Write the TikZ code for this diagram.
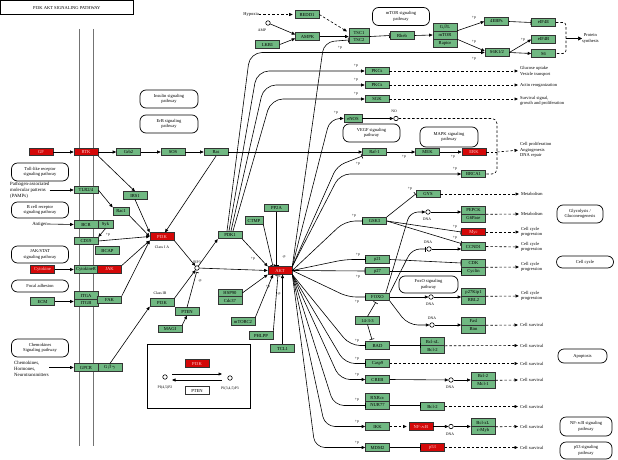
\documentclass[tikz,border=0pt]{standalone}
\usepackage{fontspec}
\setmainfont{Liberation Serif}
\usetikzlibrary{arrows.meta}

\definecolor{kgreen}{RGB}{112,184,130}
\definecolor{kred}{RGB}{212,8,8}
\definecolor{kpink}{RGB}{255,205,205}
\newcommand{\gfont}{\fontsize{4.6}{5}\selectfont}
\newcommand{\tfont}{\fontsize{4.5}{5.6}\selectfont}

\tikzset{
  gene/.style={draw=black!80, fill=kgreen, line width=0.6pt, minimum width=24pt, minimum height=7.5pt, inner sep=0pt, font=\gfont},
  redgene/.style={gene, fill=kred, text=kpink},
  pathbox/.style={draw, line width=0.7pt, rounded corners=6pt, align=center, font=\tfont, minimum width=57pt, minimum height=18pt, inner sep=1pt},
  txt/.style={font=\tfont, align=left, inner sep=0pt},
  plab/.style={font=\fontsize{3.8}{4}\selectfont, inner sep=0pt},
  dna/.style={circle, draw, line width=0.6pt, inner sep=0pt, minimum size=4.5pt, fill=white},
  act/.style={-{Triangle[length=3.5pt,width=3pt]}, line width=0.6pt},
  inh/.style={-{Bar[width=5pt]}, line width=0.6pt},
  dact/.style={act, dash pattern=on 2.5pt off 2pt, shorten >=2pt},
  dln/.style={line width=0.6pt, dash pattern=on 2.5pt off 2pt},
  memb/.style={draw=black!55, line width=0.6pt}
}

\begin{document}
\begin{tikzpicture}[x=1pt,y=-1pt]
\useasboundingbox (0,0) rectangle (618,460);

% title
\node[draw, line width=0.6pt, minimum width=132pt, minimum height=13.5pt, inner sep=0pt, anchor=north west, font=\tfont] (title) at (0.5,0.5) {PI3K AKT SIGNALING PATHWAY};

% cell membrane
\draw[memb] (79,29) -- (79,446);
\draw[memb] (93,29) -- (93,446);

% pathway maps
\node[pathbox] (mtorpath) at (401,16.5) {mTOR signaling\\pathway};
\node[pathbox, minimum width=58pt] (inspath) at (169,99) {Insulin signaling\\pathway};
\node[pathbox, minimum width=58pt] (erbpath) at (169,124) {ErB signaling\\pathway};
\node[pathbox] (vegfpath) at (371.5,133) {VEGF signaling\\pathway};
\node[pathbox, minimum width=58pt, minimum height=20pt] (mapkpath) at (449,137) {MAPK signaling\\pathway};
\node[pathbox] (tlrpath) at (40,172) {Toll-like receptor\\signaling pathway};
\node[pathbox, minimum height=16pt] (bcrpath) at (40,210) {B cell receptor\\signaling pathway};
\node[pathbox, minimum height=17pt] (jakpath) at (40,254.5) {JAK/STAT\\signaling pathway};
\node[pathbox, minimum height=12pt] (focalpath) at (40,286) {Focal adhesion};
\node[pathbox] (chemopath) at (40,348) {Chemokines\\Signaling pathway};
\node[pathbox, minimum width=59pt, minimum height=17pt] (foxopath) at (428.5,284.5) {FoxO signaling\\pathway};
\node[pathbox, minimum width=46pt] (glycopath) at (580,214) {Glycolysis /\\Gluconeogenesis};
\node[pathbox, minimum height=12pt] (ccpath) at (585,262) {Cell cycle};
\node[pathbox, minimum width=49pt, minimum height=14pt] (apoppath) at (582.5,356) {Apoptosis};
\node[pathbox, minimum width=52pt, minimum height=19pt] (nfkbpath) at (586,426.5) {NF-$\kappa$B signaling\\pathway};
\node[pathbox, minimum width=52pt, minimum height=17pt] (p53path) at (586,450.5) {p53 signaling\\pathway};

% receptor level
\node[redgene] (gf) at (41,152) {GF};
\node[redgene] (rtk) at (86,152) {RTK};
\node[gene] (grb2) at (128.5,152) {Grb2};
\node[gene] (sos) at (173,152) {SOS};
\node[gene] (ras) at (216,152) {Ras};
\node[gene] (tlr24) at (86,190) {TLR2/4};
\node[gene] (irs1) at (135,195.5) {IRS1};
\node[gene, minimum width=16pt] (rac1) at (121,211.5) {Rac1};
\node[gene] (bcr) at (86,224.5) {BCR};
\node[gene, minimum width=15pt] (syk) at (105.5,224.5) {Syk};
\node[gene] (cd19) at (86,241) {CD19};
\node[gene] (bcap) at (107.5,250.5) {BCAP};
\node[redgene] (cytokine) at (42.5,269.5) {Cytokine};
\node[gene] (cytor) at (86,269.5) {CytokineR};
\node[redgene] (jak) at (109.5,269.5) {JAK};
\node[gene] (ecm) at (42.5,301.5) {ECM};
\node[gene] (itga) at (86,295.5) {ITGA};
\node[gene] (itgb) at (86,303) {ITGB};
\node[gene] (fak) at (109.5,300) {FAK};
\node[gene] (gpcr) at (86,367.5) {GPCR};
\node[gene] (gbg) at (110,367.5) {G$\beta\gamma$};

% PI3K / AKT core
\node[redgene] (pi3k) at (162,236.5) {PI3K};
\node[gene] (pi3kb) at (162,302.5) {PI3K};
\node[gene] (pten) at (187,311.5) {PTEN};
\node[gene] (magi) at (170,329) {MAGI};
\node[dna] (pip3) at (197,268) {};
\node[gene] (pdk1) at (230,235) {PDK1};
\node[gene, minimum width=18pt] (ctmp) at (254,220.5) {CTMP};
\node[gene] (pp2a) at (276.5,208) {PP2A};
\node[redgene] (akt) at (280,270.5) {AKT};
\node[gene] (hsp90) at (230,293) {HSP90};
\node[gene] (cdc37) at (230,300.5) {Cdc37};
\node[gene] (mtorc2) at (243,321.5) {mTORC2};
\node[gene] (phlpp) at (261,335.5) {PHLPP};
\node[gene] (tcl1) at (282.5,348.5) {TCL1};

% mTOR branch
\node[gene] (redd1) at (307,14.5) {REDD1};
\node[gene] (ampk) at (307.5,36.5) {AMPK};
\node[gene] (lkb1) at (267.5,44.5) {LKB1};
\node[dna] (amp) at (268,23) {};
\node[gene, minimum width=20pt] (tsc1) at (359,32.5) {TSC1};
\node[gene, minimum width=20pt] (tsc2) at (359,40) {TSC2};
\node[gene] (rheb) at (402,35.5) {Rheb};
\node[gene, minimum height=8pt] (gbl) at (445,27) {G$\beta$L};
\node[gene, minimum height=8pt] (mtor) at (445,35) {mTOR};
\node[gene, minimum height=8pt] (raptor) at (445,43) {Raptor};
\node[gene] (ebp) at (496.5,21.5) {4EBPs};
\node[gene] (eif4e) at (543.5,22.5) {eIF4E};
\node[gene] (s6k) at (497,52.5) {S6K1/2};
\node[gene] (eif4b) at (543.5,39.5) {eIF4B};
\node[gene] (s6) at (543.5,53.5) {S6};

% PDK1 targets
\node[gene] (pkca) at (377,71) {PKCs};
\node[gene] (pkcb) at (377,85) {PKCs};
\node[gene] (sgk) at (377,99) {SGK};
\node[gene, minimum width=18pt] (enos) at (353,118.5) {eNOS};
\node[dna] (no) at (396,118.5) {};

% MAPK row
\node[gene] (raf) at (374.5,152) {Raf-1};
\node[gene] (mek) at (427.5,152) {MEK};
\node[redgene] (erk) at (474,152) {ERK};
\node[gene] (brca1) at (473.5,174) {BRCA1};

% AKT targets
\node[gene] (gys) at (428,194) {GYS};
\node[gene] (gsk3) at (374.5,221) {GSK3};
\node[gene, minimum height=8pt] (pepck) at (473.5,210) {PEPCK};
\node[gene, minimum height=8pt] (g6pase) at (473.5,218) {G6Pase};
\node[redgene] (myc) at (473.5,232) {Myc};
\node[gene] (ccnd1) at (473.5,246.5) {CCND1};
\node[gene, minimum height=8pt] (cdk) at (473.5,263) {CDK};
\node[gene, minimum height=8pt] (cyclin) at (473.5,271) {Cyclin};
\node[gene, minimum height=8pt] (p27kip) at (473.5,292) {p27Kip1};
\node[gene, minimum height=8pt] (rbl2) at (473.5,300) {RBL2};
\node[gene] (p21) at (377.5,259.5) {p21};
\node[gene] (p27) at (377.5,271) {p27};
\node[gene] (foxo) at (377.5,297) {FOXO};
\node[gene, minimum height=8pt] (fasl) at (473.5,321) {Fasl};
\node[gene, minimum height=8pt] (bim) at (473.5,329) {Bim};
\node[gene] (y1433) at (367.5,320.5) {14-3-3};
\node[gene] (bad) at (377.5,345.5) {BAD};
\node[gene, minimum height=8pt] (bclxl) at (432.5,341.5) {Bcl-xL};
\node[gene, minimum height=8pt] (bcl2) at (432.5,349.5) {Bcl-2};
\node[gene] (casp9) at (377.5,363.5) {Casp9};
\node[gene] (creb) at (377.5,379.5) {CREB};
\node[gene, minimum height=8pt] (bcl2c) at (483,376) {Bcl-2};
\node[gene, minimum height=8pt] (mcl1) at (483,384) {Mcl-1};
\node[gene, minimum height=8pt] (rxra) at (377.5,397.5) {RXR$\alpha$};
\node[gene, minimum height=8pt] (nur77) at (377.5,405.5) {NUR77};
\node[gene] (bcl2n) at (432.5,406.5) {Bcl-2};
\node[gene] (ikk) at (377.5,426.5) {IKK};
\node[redgene] (nfkb) at (421,426.5) {NF-$\kappa$B};
\node[gene, minimum height=8pt] (bclxln) at (483,422.5) {Bcl-xL};
\node[gene, minimum height=8pt] (cmyb) at (483,430.5) {c-Myb};
\node[gene] (mdm2) at (377.5,447.5) {MDM2};
\node[redgene] (p53) at (432.5,447.5) {p53};

% DNA
\node[dna] (dna1) at (428,212) {};
\node[dna] (dna2) at (429,249) {};
\node[dna] (dna3) at (431,297) {};
\node[dna] (dna4) at (432,325) {};
\node[dna] (dna5) at (451,380) {};
\node[dna] (dna6) at (451,426.5) {};
\node[plab] (dnal1) at (427,219.5) {DNA};
\node[plab] (dnal2) at (428,242) {DNA};
\node[plab] (dnal3) at (430,304) {DNA};
\node[plab] (dnal4) at (432,318.5) {DNA};
\node[plab] (dnal5) at (450,387.5) {DNA};
\node[plab] (dnal6) at (450,434) {DNA};

% free texts
\node[txt] (hyp) at (251,14.5) {Hypoxia};
\node[plab] (ampl) at (262,30.5) {AMP};
\node[plab] (nol) at (394,111.5) {NO};
\node[plab] (pip3l) at (197,262) {PIP3};
\node[plab] (cls1a) at (162,247) {Class I A};
\node[plab] (cls1b) at (160,293) {Class IB};
\node[txt, anchor=west, align=center] (psyn) at (582,38.5) {Protein\\synthesis};
\node[txt, anchor=west] (glu) at (520,71.5) {Glucose uptake\\Vesicle transport};
\node[txt, anchor=west] (actin) at (520,85) {Actin reorganization};
\node[txt, anchor=west] (surv) at (520,101) {Survival signal,\\growth and proliferation};
\node[txt, anchor=west] (prolif) at (520,150) {Cell proliferation\\Angiogenesis\\DNA repair};
\node[txt, anchor=west] (metab1) at (521,194) {Metabolism};
\node[txt, anchor=west] (metab2) at (521,214) {Metabolism};
\node[txt, anchor=west] (cc1) at (521,232) {Cell cycle\\progression};
\node[txt, anchor=west] (cc2) at (521,247) {Cell cycle\\progression};
\node[txt, anchor=west] (cc3) at (521,267) {Cell cycle\\progression};
\node[txt, anchor=west] (cc4) at (521,296) {Cell cycle\\progression};
\node[txt, anchor=west] (cs1) at (520,325) {Cell survival};
\node[txt, anchor=west] (cs2) at (520,345.5) {Cell survival};
\node[txt, anchor=west] (cs3) at (520,363.5) {Cell survival};
\node[txt, anchor=west] (cs4) at (520,380) {Cell survival};
\node[txt, anchor=west] (cs5) at (520,406.5) {Cell survival};
\node[txt, anchor=west] (cs6) at (520,426.5) {Cell survival};
\node[txt, anchor=west] (cs7) at (520,447.5) {Cell survival};
\node[txt, anchor=west, font=\fontsize{4.8}{6}\selectfont] (pamps) at (10,190) {Pathogen-associated\\molecular patterns\\(PAMPs)};
\node[txt, font=\fontsize{4.8}{6}\selectfont] (antigen) at (40,224) {Antigen};
\node[txt, anchor=west, font=\fontsize{4.8}{6}\selectfont] (chemo) at (14,369) {Chemokines,\\Hormones,\\Neurotransmitters};

% +p / -p
\node[plab] (q1) at (108,235) {+p};
\node[plab] (q2) at (340,48) {+p};
\node[plab] (q3) at (356,66) {+p};
\node[plab] (q4) at (356,80) {+p};
\node[plab] (q5) at (356,94) {+p};
\node[plab] (q6) at (336,112.5) {+p};
\node[plab] (q7) at (358,164) {+p};
\node[plab] (q8) at (404,157) {+p};
\node[plab] (q9) at (453,157) {+p};
\node[plab] (q10) at (455,169) {+p};
\node[plab] (q11) at (410,189) {+p};
\node[plab] (q12) at (354,216) {+p};
\node[plab] (q13) at (455,227) {+p};
\node[plab] (q14) at (455,238) {+p};
\node[plab] (q15) at (358,255) {+p};
\node[plab] (q16) at (358,276.5) {+p};
\node[plab] (q17) at (357,302) {+p};
\node[plab] (q18) at (357,341) {+p};
\node[plab] (q19) at (357,358.5) {+p};
\node[plab] (q20) at (357,375) {+p};
\node[plab] (q21) at (357,400) {+p};
\node[plab] (q22) at (357,422) {+p};
\node[plab] (q23) at (357,443) {+p};
\node[plab] (q24) at (474,18) {+p};
\node[plab] (q25) at (474,42) {+p};
\node[plab] (q26) at (474,59) {+p};
\node[plab] (q27) at (523,40) {+p};
\node[plab] (q28) at (253,259) {+p};
\node[plab] (q29) at (284,257) {-p};
\node[plab] (q30) at (268,287) {+p};
\node[plab] (q31) at (279,294) {-p};
\node[plab] (q32) at (200,281) {-p};

% legend
\draw[line width=0.7pt] (147,344) rectangle (250,408);
\node[redgene] (lgpi3k) at (197,363.5) {PI3K};
\node[gene, fill=white] (lgpten) at (197,390.5) {PTEN};
\node[dna] (lgpip2) at (165,377) {};
\node[dna] (lgpip3) at (230,378) {};
\node[plab] (lgl2) at (165,387.5) {PI(4,5)P2};
\node[plab] (lgl3) at (230,388.5) {PI(3,4,5)P3};
\draw[act] ([shift={(7,-3)}]lgpip2.center) -- ([shift={(-8,-4)}]lgpip3.center);
\draw[act] ([shift={(-8,2)}]lgpip3.center) -- ([shift={(7,3)}]lgpip2.center);

% coordinates for brackets
\coordinate (brk) at (497,152);
\coordinate (psb) at (566,38.5);

% receptor arrows
\draw[act] (gf) -- (rtk);
\draw[act] (rtk) -- (grb2);
\draw[act] (grb2) -- (sos);
\draw[act] (sos) -- (ras);
\draw[act] (ras) -- (raf);
\draw[act] (raf) -- (mek);
\draw[act] (mek) -- (erk);
\draw[act] (rtk.south east) -- (irs1.north);
\draw[act] (pamps.east |- tlr24) -- (tlr24.west);
\draw[act] (tlr24.east) -- (rac1.north west);
\draw[act] (antigen.east) -- (bcr.west);
\draw[act] (syk.south) -- (cd19.north east);
\draw[act] (cytokine) -- (cytor);
\draw[act] (ecm) -- (ecm -| itga.west);
\draw[act] (chemo.east |- gpcr) -- (gpcr.west);
\draw[act] (irs1.south) -- (pi3k.north west);
\draw[act] (rac1.south east) -- (pi3k.west);
\draw[act] (cd19.east) -- (pi3k.west);
\draw[act] (jak.north east) -- (pi3k.south west);
\draw[act] (fak.north east) -- (pi3k.south west);
\draw[act] (ras.south) -- ([shift={(3,0)}]pi3k.north);
\draw[act] (gbg.north) -- (pi3kb.south west);

% PIP3
\draw[act] (pi3k.south east) -- (pip3);
\draw[act] (pi3kb.north east) -- (pip3);
\draw[inh, shorten >=1.5pt] (pten.north) -- (pip3.south);
\draw[act] (magi.north east) -- (pten.south);
\draw[act] (pip3) -- (pdk1.south west);
\draw[act] (pip3) -- (akt.west);

% into AKT
\draw[act] (pdk1.south east) -- (akt.north west);
\draw[inh, shorten >=1pt] (ctmp.south east) -- ([shift={(-7,0)}]akt.north);
\draw[inh, shorten >=1pt] (pp2a.south) -- ([shift={(-3.5,0)}]akt.north);
\draw[act] (hsp90.east) -- (akt.south west);
\draw[act] (mtorc2.north east) -- ([shift={(-7,0)}]akt.south);
\draw[inh, shorten >=1pt] (phlpp.north east) -- ([shift={(-2,0)}]akt.south);
\draw[act] (tcl1.north) -- (tcl1.north |- akt.south);

% PDK1 outputs
\draw[act, rounded corners=12] ([shift={(-3,0)}]pdk1.north) -- (250,52.5) -- (s6k.west);
\draw[act, rounded corners=12] ([shift={(-1,0)}]pdk1.north) -- (257,71) -- (pkca.west);
\draw[act, rounded corners=12] ([shift={(1,0)}]pdk1.north) -- (264,85) -- (pkcb.west);
\draw[act, rounded corners=12] ([shift={(3,0)}]pdk1.north) -- (271,99) -- (sgk.west);

% AKT outputs
\draw[inh, rounded corners=10] (akt.north east) -- (324,42) -- (tsc2.west);
\draw[act, rounded corners=10] (akt.north east) -- (330,118.5) -- (enos.west);
\draw[inh, rounded corners=8] (akt.north east) -- (337,166) -- (raf.south west);
\draw[act, rounded corners=10] (akt.north east) -- (340,174) -- (brca1.west);
\draw[inh, rounded corners=10] (akt.east) -- (345,221) -- (gsk3.west);
\draw[inh, rounded corners=8] (akt.east) -- (345,259.5) -- (p21.west);
\draw[inh] (akt.east) -- (p27.west);
\draw[inh, rounded corners=8] (akt.east) -- (348,297) -- (foxo.west);
\draw[inh, rounded corners=10] (akt.south east) -- (350,345.5) -- (bad.west);
\draw[inh, rounded corners=10] (akt.south east) -- (345,363.5) -- (casp9.west);
\draw[act, rounded corners=10] (akt.south east) -- (340,379.5) -- (creb.west);
\draw[inh, rounded corners=10] (akt.south east) -- (334,405.5) -- (nur77.west);
\draw[act, rounded corners=10] (akt.south east) -- (325,426.5) -- (ikk.west);
\draw[act, rounded corners=10] (akt.south east) -- (315,447.5) -- (mdm2.west);

% mTOR branch
\draw[dact] (hyp.east) -- (redd1.west);
\draw[dact] (redd1.east) -- (tsc1.west);
\draw[act] (amp) -- ([shift={(0,-2)}]ampk.west);
\draw[act] (lkb1.east) -- ([shift={(0,2)}]ampk.west);
\draw[act] (ampk.east) -- (tsc1.south west);
\draw[inh] (tsc1.south east) -- (rheb.west);
\draw[act] (rheb.east) -- (mtor.west);
\draw[act] (mtor.north east) -- (ebp.west);
\draw[act] (mtor.south east) -- ([shift={(0,-1.5)}]s6k.west);
\draw[inh] (ebp.east) -- (eif4e.west);
\draw[act] (s6k.east) -- (eif4b.west);
\draw[act] (s6k.east) -- (s6.west);
\draw[dln, rounded corners=3] (eif4e.east) -- (eif4e.east -| psb) -- (s6.east -| psb) -- (s6.east);
\draw[-{Triangle[length=4pt,width=4pt]}, line width=0.7pt] (psb) -- (psyn.west);

% outcomes upper
\draw[dact] (pkca.east) -- (glu.west |- pkca);
\draw[dact] (pkcb.east) -- (actin.west);
\draw[dact] (sgk.east) -- (surv.west |- sgk);
\draw[act] (enos.east) -- (no);
\draw[dln, rounded corners=5] (no.east) -- (brk |- no) -- (brk |- brca1) -- (brca1.east);
\draw[dln] (erk.east) -- (brk);
\draw[dact] (brk) -- (prolif.west);

% metabolism and cell cycle
\draw[inh] (gsk3.north east) -- (gys.west);
\draw[dact] (gys.east) -- (metab1.west);
\draw[inh] (gsk3.east) -- (myc.west);
\draw[inh] (gsk3.east) -- ([shift={(0,-3)}]ccnd1.west);
\draw[act, rounded corners=8] ([shift={(-4,0)}]foxo.north east) -- (410,212) -- (dna1);
\draw[act] (dna1) -- (dna1 -| pepck.west);
\draw[dact] (pepck.south east) -- (metab2.west);
\draw[inh, rounded corners=8, shorten >=1pt] (foxo.north east) -- (412,249) -- (dna2);
\draw[act] (dna2) -- (dna2 -| ccnd1.west);
\draw[dact] (myc.east) -- (cc1.west);
\draw[dact] (ccnd1.east) -- (cc2.west);
\draw[inh] (p21.east) -- (cdk.west);
\draw[inh] (p27.east) -- (cyclin.west);
\draw[dact] (cdk.south east) -- (cc3.west);
\draw[act] (foxo.east) -- (dna3);
\draw[act] (dna3) -- (dna3 -| p27kip.west);
\draw[dact] (p27kip.south east) -- (cc4.west);

% survival
\draw[act, rounded corners=10] (foxo.south east) -- (408,325) -- (dna4);
\draw[act] (dna4) -- (dna4 -| fasl.west);
\draw[dact] (fasl.south east) -- (cs1.west);
\draw[inh, shorten >=1.5pt] (y1433.north) -- ([shift={(-1,0)}]foxo.south);
\draw[inh, shorten >=2pt] (y1433.south) -- ([shift={(-5,0)}]bad.north);
\draw[inh] (bad.east) -- (bad.east -| bclxl.west);
\draw[dact] (bclxl.south east) -- (cs2.west);
\draw[dact] (casp9.east) -- (cs3.west);
\draw[act] (creb.east) -- (dna5);
\draw[act] (dna5) -- (dna5 -| bcl2c.west);
\draw[dact] (bcl2c.south east) -- (cs4.west);
\draw[inh] (nur77.east) -- (nur77.east -| bcl2n.west);
\draw[dact] (bcl2n.east) -- (cs5.west);
\draw[dact] (ikk.east) -- (nfkb.west);
\draw[act] (nfkb.east) -- (dna6);
\draw[act] (dna6) -- (dna6 -| bclxln.west);
\draw[dact] (bclxln.south east) -- (cs6.west);
\draw[inh] (mdm2.east) -- (p53.west);
\draw[dact] (p53.east) -- (cs7.west);

\end{tikzpicture}
\end{document}
